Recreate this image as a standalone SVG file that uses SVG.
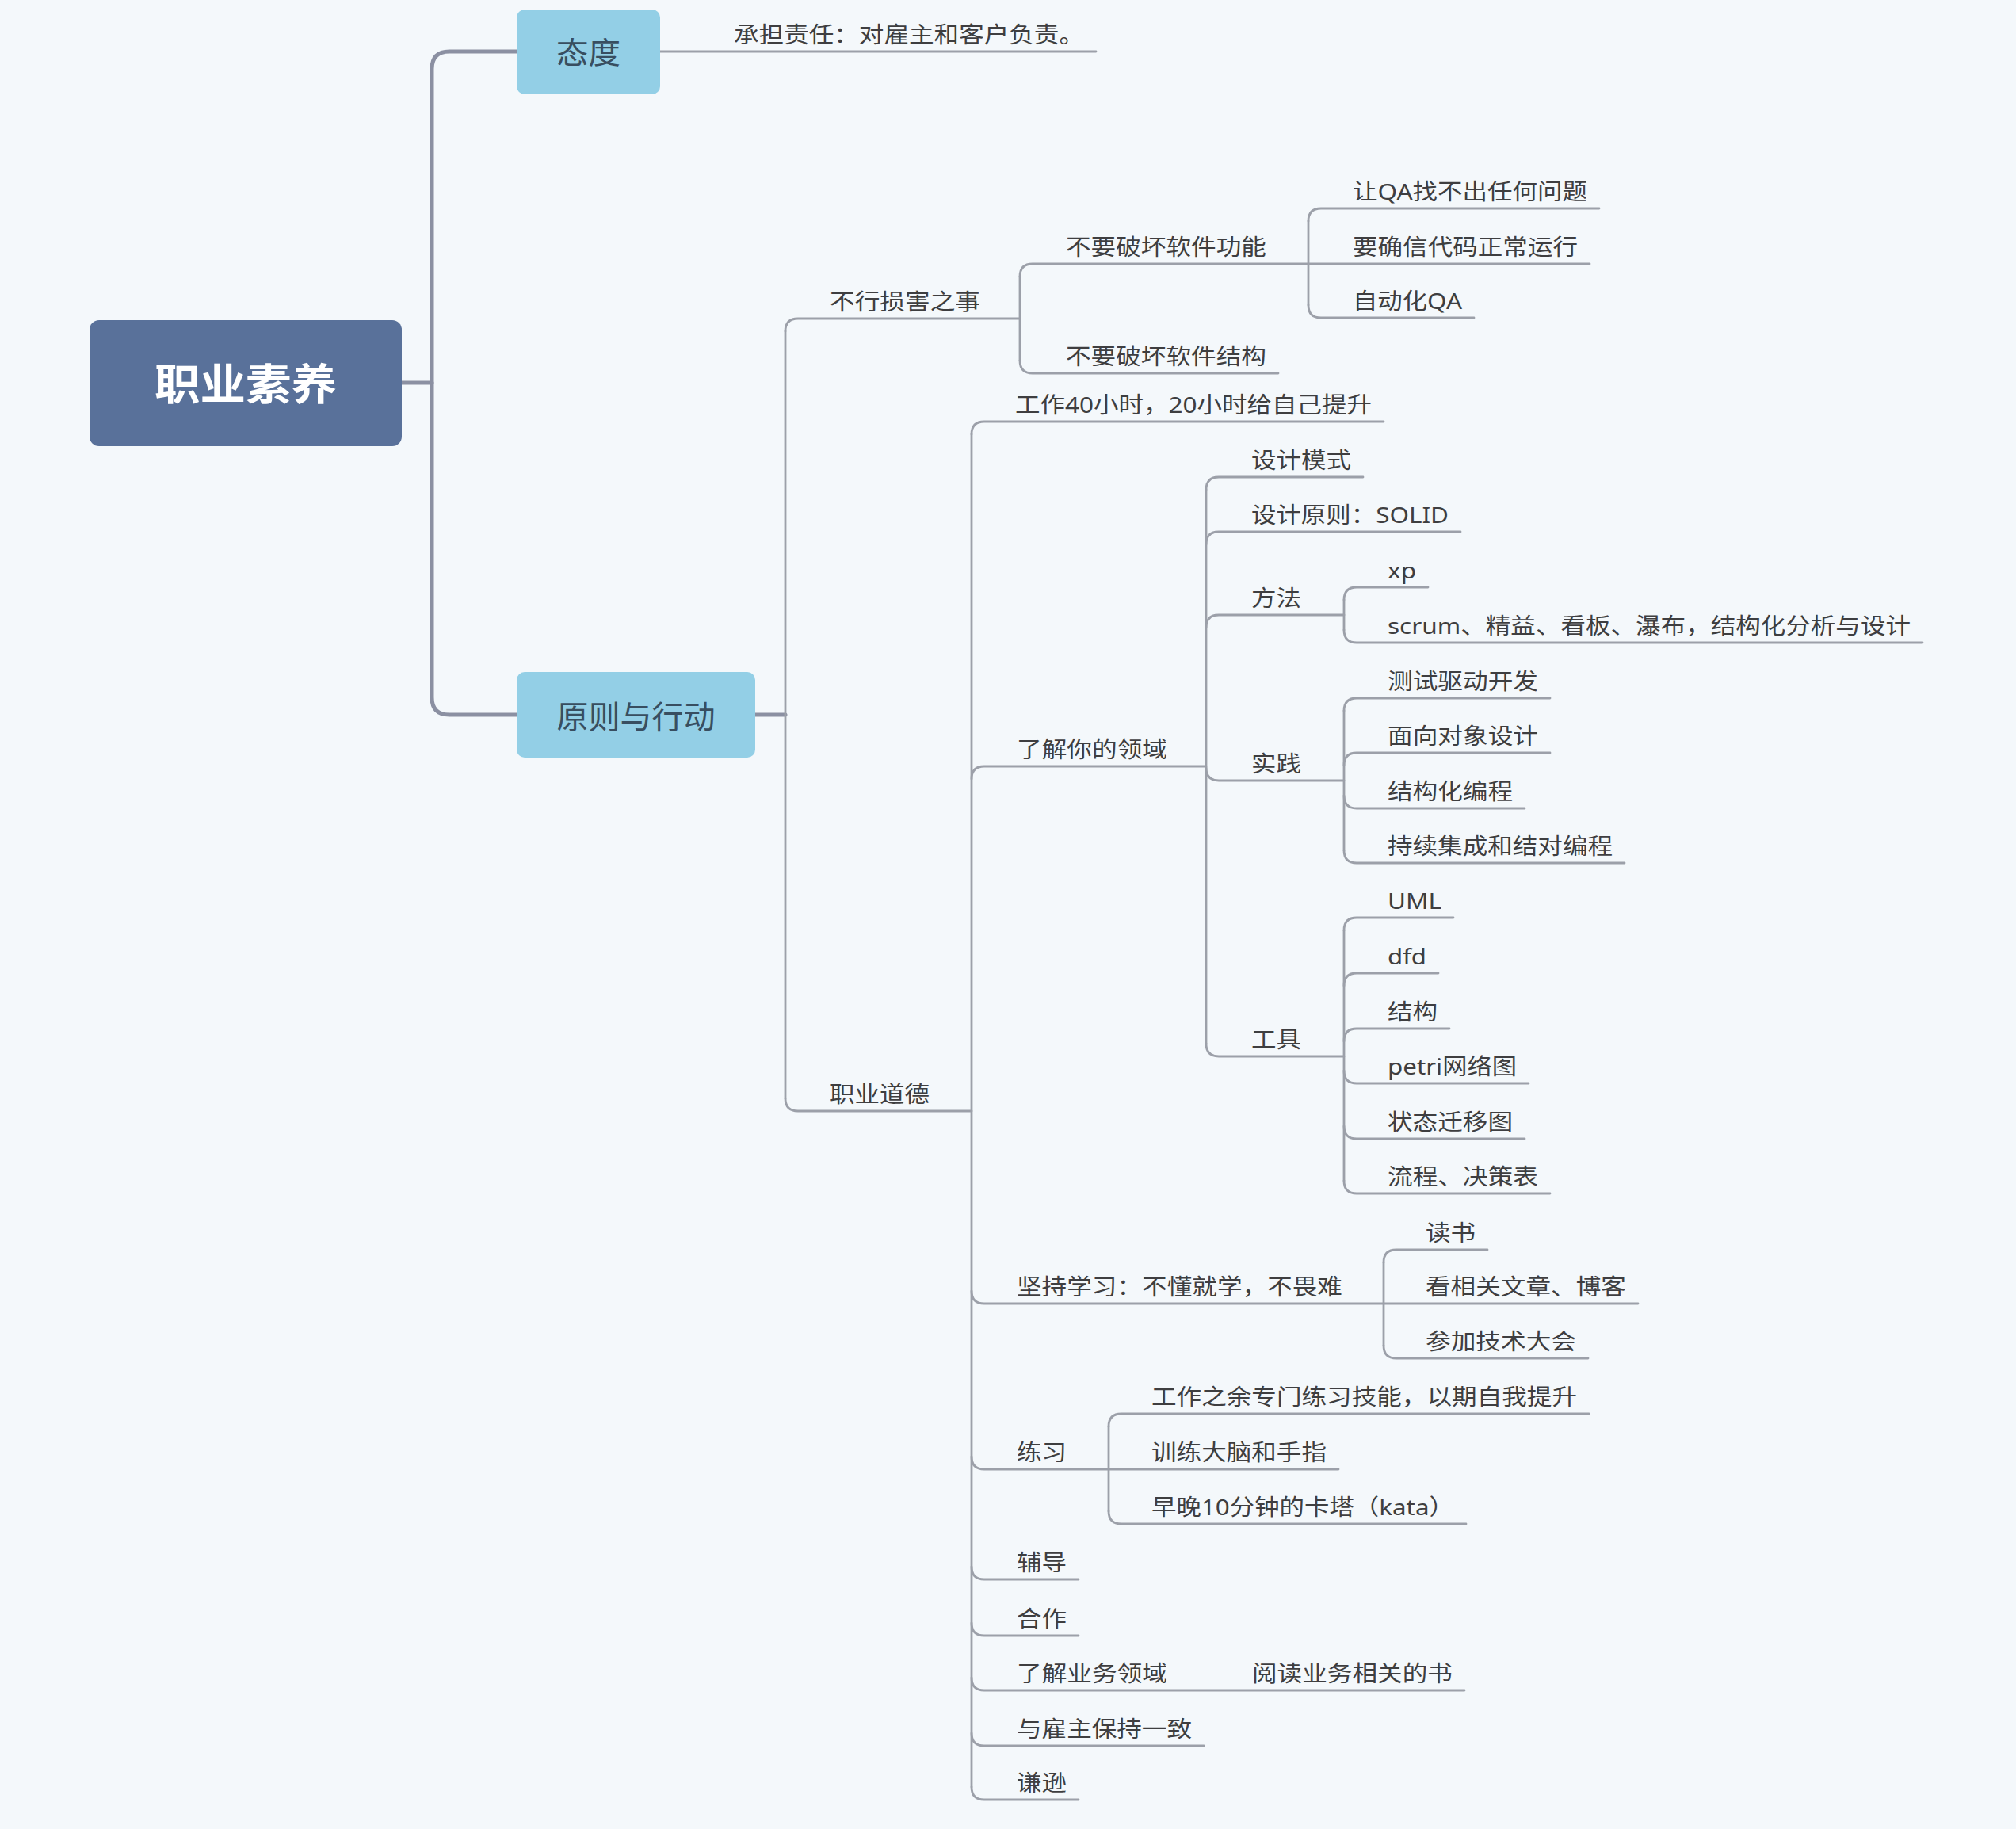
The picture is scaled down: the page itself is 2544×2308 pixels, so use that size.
<svg xmlns="http://www.w3.org/2000/svg" width="2544" height="2308" viewBox="0 0 2544 2308">
<style>
.bg{fill:#f4f8fb}
.t{font-family:"Noto Sans","Noto Sans CJK SC",sans-serif;font-size:28px;fill:#3e3e40}
.bt{font-family:"Noto Sans","Noto Sans CJK SC",sans-serif;fill:#384e60;text-anchor:middle}
.rt{font-family:"Noto Sans","Noto Sans CJK SC",sans-serif;fill:#ffffff;text-anchor:middle;font-weight:bold}
.sub{fill:#93cfe6}
.m{fill:none;stroke:#8b90a2;stroke-width:5;stroke-linecap:round}
.c{fill:none;stroke:#9ca0a9;stroke-width:2.8;stroke-linecap:round}
</style>
<rect class="bg" x="0" y="0" width="2544" height="2308"/>

<g id="connectors">
  <path class="m" d="M507,483 H545" stroke-width="6"/>
  <path class="m" d="M652,65 H567 Q545,65 545,87 V880 Q545,902 567,902 H652"/>
  <path class="m" d="M953,902 H991" stroke-width="3.5"/>
  <path class="c" d="M833,65 H1383" stroke-width="3.2"/>

  <!-- 原则与行动 children -->
  <path class="c" d="M991,418 V1386"/>
  <path class="c" d="M991,418 Q991,402 1007,402 H1287"/>
  <path class="c" d="M991,1386 Q991,1402 1007,1402 H1226"/>

  <!-- 不行损害之事 children -->
  <path class="c" d="M1287,349 V455"/>
  <path class="c" d="M1287,349 Q1287,333 1303,333 H1651"/>
  <path class="c" d="M1287,455 Q1287,471 1303,471 H1613"/>

  <!-- 不要破坏软件功能 children -->
  <path class="c" d="M1651,279 V385"/>
  <path class="c" d="M1651,279 Q1651,263 1667,263 H2018"/>
  <path class="c" d="M1651,333 H2006"/>
  <path class="c" d="M1651,385 Q1651,401 1667,401 H1860"/>

  <!-- 职业道德 children -->
  <path class="c" d="M1226,548 V2255"/>
  <path class="c" d="M1226,548 Q1226,532 1242,532 H1746"/>
  <path class="c" d="M1226,983 Q1226,967 1242,967 H1522"/>
  <path class="c" d="M1226,1629 Q1226,1645 1242,1645 H1746"/>
  <path class="c" d="M1226,1838 Q1226,1854 1242,1854 H1399"/>
  <path class="c" d="M1226,1977 Q1226,1993 1242,1993 H1361"/>
  <path class="c" d="M1226,2048 Q1226,2064 1242,2064 H1361"/>
  <path class="c" d="M1226,2117 Q1226,2133 1242,2133 H1848"/>
  <path class="c" d="M1226,2187 Q1226,2203 1242,2203 H1519"/>
  <path class="c" d="M1226,2255 Q1226,2271 1242,2271 H1361"/>

  <!-- 了解你的领域 children -->
  <path class="c" d="M1522,618 V1317"/>
  <path class="c" d="M1522,618 Q1522,602 1538,602 H1720"/>
  <path class="c" d="M1522,687 Q1522,671 1538,671 H1843"/>
  <path class="c" d="M1522,792 Q1522,776 1538,776 H1696"/>
  <path class="c" d="M1522,969 Q1522,985 1538,985 H1696"/>
  <path class="c" d="M1522,1317 Q1522,1333 1538,1333 H1696"/>

  <!-- 方法 children -->
  <path class="c" d="M1696,757 V795"/>
  <path class="c" d="M1696,757 Q1696,741 1712,741 H1802"/>
  <path class="c" d="M1696,795 Q1696,811 1712,811 H2426"/>

  <!-- 实践 children -->
  <path class="c" d="M1696,897 V1073"/>
  <path class="c" d="M1696,897 Q1696,881 1712,881 H1956"/>
  <path class="c" d="M1696,966 Q1696,950 1712,950 H1956"/>
  <path class="c" d="M1696,1004 Q1696,1020 1712,1020 H1924"/>
  <path class="c" d="M1696,1073 Q1696,1089 1712,1089 H2050"/>

  <!-- 工具 children -->
  <path class="c" d="M1696,1174 V1490"/>
  <path class="c" d="M1696,1174 Q1696,1158 1712,1158 H1834"/>
  <path class="c" d="M1696,1244 Q1696,1228 1712,1228 H1815"/>
  <path class="c" d="M1696,1314 Q1696,1298 1712,1298 H1829"/>
  <path class="c" d="M1696,1351 Q1696,1367 1712,1367 H1929"/>
  <path class="c" d="M1696,1421 Q1696,1437 1712,1437 H1924"/>
  <path class="c" d="M1696,1490 Q1696,1506 1712,1506 H1956"/>

  <!-- 坚持学习 children -->
  <path class="c" d="M1746,1593 V1698"/>
  <path class="c" d="M1746,1593 Q1746,1577 1762,1577 H1877"/>
  <path class="c" d="M1746,1645 H2067"/>
  <path class="c" d="M1746,1698 Q1746,1714 1762,1714 H2004"/>

  <!-- 练习 children -->
  <path class="c" d="M1399,1800 V1907"/>
  <path class="c" d="M1399,1800 Q1399,1784 1415,1784 H2005"/>
  <path class="c" d="M1399,1854 H1689"/>
  <path class="c" d="M1399,1907 Q1399,1923 1415,1923 H1850"/>
</g>

<g id="root">
  <rect x="113" y="404" width="394" height="159" rx="12" fill="#59719a"/>
  <text class="rt" x="310" y="505" font-size="54" textLength="230" lengthAdjust="spacingAndGlyphs">职业素养</text>
</g>
<g id="n-taidu">
  <rect class="sub" x="652" y="12" width="181" height="107" rx="10"/>
  <text class="bt" x="742.5" y="80" font-size="38" textLength="81" lengthAdjust="spacingAndGlyphs">态度</text>
</g>
<g id="n-yuanze">
  <rect class="sub" x="652" y="848" width="301" height="108" rx="10"/>
  <text class="bt" x="802.5" y="919" font-size="40" textLength="200" lengthAdjust="spacingAndGlyphs">原则与行动</text>
</g>

<g id="n-chengdan"><text class="t" x="926" y="54" textLength="442" lengthAdjust="spacingAndGlyphs">承担责任：对雇主和客户负责。</text></g>
<g id="n-buxing"><text class="t" x="1047" y="391" textLength="190" lengthAdjust="spacingAndGlyphs">不行损害之事</text></g>
<g id="n-gongneng"><text class="t" x="1345" y="322" textLength="253" lengthAdjust="spacingAndGlyphs">不要破坏软件功能</text></g>
<g id="n-qa1"><text class="t" x="1707" y="252" textLength="296" lengthAdjust="spacingAndGlyphs">让QA找不出任何问题</text></g>
<g id="n-qa2"><text class="t" x="1707" y="322" textLength="284" lengthAdjust="spacingAndGlyphs">要确信代码正常运行</text></g>
<g id="n-qa3"><text class="t" x="1707" y="390" textLength="138" lengthAdjust="spacingAndGlyphs">自动化QA</text></g>
<g id="n-jiegou"><text class="t" x="1345" y="460" textLength="253" lengthAdjust="spacingAndGlyphs">不要破坏软件结构</text></g>
<g id="n-daode"><text class="t" x="1047" y="1391" textLength="126" lengthAdjust="spacingAndGlyphs">职业道德</text></g>
<g id="n-40h"><text class="t" x="1281" y="521" textLength="450" lengthAdjust="spacingAndGlyphs">工作40小时，20小时给自己提升</text></g>
<g id="n-lingyu"><text class="t" x="1283" y="956" textLength="190" lengthAdjust="spacingAndGlyphs">了解你的领域</text></g>
<g id="n-moshi"><text class="t" x="1579" y="591" textLength="126" lengthAdjust="spacingAndGlyphs">设计模式</text></g>
<g id="n-solid"><text class="t" x="1579" y="660" textLength="249" lengthAdjust="spacingAndGlyphs">设计原则：SOLID</text></g>
<g id="n-fangfa"><text class="t" x="1579" y="765" textLength="63" lengthAdjust="spacingAndGlyphs">方法</text></g>
<g id="n-xp"><text class="t" x="1751" y="730" textLength="36" lengthAdjust="spacingAndGlyphs">xp</text></g>
<g id="n-scrum"><text class="t" x="1751" y="800" textLength="660" lengthAdjust="spacingAndGlyphs">scrum、精益、看板、瀑布，结构化分析与设计</text></g>
<g id="n-shijian"><text class="t" x="1579" y="974" textLength="63" lengthAdjust="spacingAndGlyphs">实践</text></g>
<g id="n-tdd"><text class="t" x="1751" y="870" textLength="190" lengthAdjust="spacingAndGlyphs">测试驱动开发</text></g>
<g id="n-ood"><text class="t" x="1751" y="939" textLength="190" lengthAdjust="spacingAndGlyphs">面向对象设计</text></g>
<g id="n-sp"><text class="t" x="1751" y="1009" textLength="158" lengthAdjust="spacingAndGlyphs">结构化编程</text></g>
<g id="n-ci"><text class="t" x="1751" y="1078" textLength="284" lengthAdjust="spacingAndGlyphs">持续集成和结对编程</text></g>
<g id="n-gongju"><text class="t" x="1579" y="1322" textLength="63" lengthAdjust="spacingAndGlyphs">工具</text></g>
<g id="n-uml"><text class="t" x="1751" y="1147" textLength="68" lengthAdjust="spacingAndGlyphs">UML</text></g>
<g id="n-dfd"><text class="t" x="1751" y="1217" textLength="49" lengthAdjust="spacingAndGlyphs">dfd</text></g>
<g id="n-jg"><text class="t" x="1751" y="1287" textLength="63" lengthAdjust="spacingAndGlyphs">结构</text></g>
<g id="n-petri"><text class="t" x="1751" y="1356" textLength="163" lengthAdjust="spacingAndGlyphs">petri网络图</text></g>
<g id="n-zt"><text class="t" x="1751" y="1426" textLength="158" lengthAdjust="spacingAndGlyphs">状态迁移图</text></g>
<g id="n-lc"><text class="t" x="1751" y="1495" textLength="190" lengthAdjust="spacingAndGlyphs">流程、决策表</text></g>
<g id="n-xuexi"><text class="t" x="1283" y="1634" textLength="411" lengthAdjust="spacingAndGlyphs">坚持学习：不懂就学，不畏难</text></g>
<g id="n-dushu"><text class="t" x="1799" y="1566" textLength="63" lengthAdjust="spacingAndGlyphs">读书</text></g>
<g id="n-blog"><text class="t" x="1799" y="1634" textLength="253" lengthAdjust="spacingAndGlyphs">看相关文章、博客</text></g>
<g id="n-conf"><text class="t" x="1799" y="1703" textLength="190" lengthAdjust="spacingAndGlyphs">参加技术大会</text></g>
<g id="n-lianxi"><text class="t" x="1283" y="1843" textLength="63" lengthAdjust="spacingAndGlyphs">练习</text></g>
<g id="n-yuyu"><text class="t" x="1453" y="1773" textLength="537" lengthAdjust="spacingAndGlyphs">工作之余专门练习技能，以期自我提升</text></g>
<g id="n-xunlian"><text class="t" x="1453" y="1843" textLength="221" lengthAdjust="spacingAndGlyphs">训练大脑和手指</text></g>
<g id="n-kata"><text class="t" x="1453" y="1912" textLength="382" lengthAdjust="spacingAndGlyphs">早晚10分钟的卡塔（kata）</text></g>
<g id="n-fudao"><text class="t" x="1283" y="1982" textLength="63" lengthAdjust="spacingAndGlyphs">辅导</text></g>
<g id="n-hezuo"><text class="t" x="1283" y="2053" textLength="63" lengthAdjust="spacingAndGlyphs">合作</text></g>
<g id="n-yewu"><text class="t" x="1283" y="2122" textLength="190" lengthAdjust="spacingAndGlyphs">了解业务领域</text></g>
<g id="n-yuedu"><text class="t" x="1580" y="2122" textLength="253" lengthAdjust="spacingAndGlyphs">阅读业务相关的书</text></g>
<g id="n-yizhi"><text class="t" x="1283" y="2192" textLength="221" lengthAdjust="spacingAndGlyphs">与雇主保持一致</text></g>
<g id="n-qianxun"><text class="t" x="1283" y="2260" textLength="63" lengthAdjust="spacingAndGlyphs">谦逊</text></g>
</svg>
